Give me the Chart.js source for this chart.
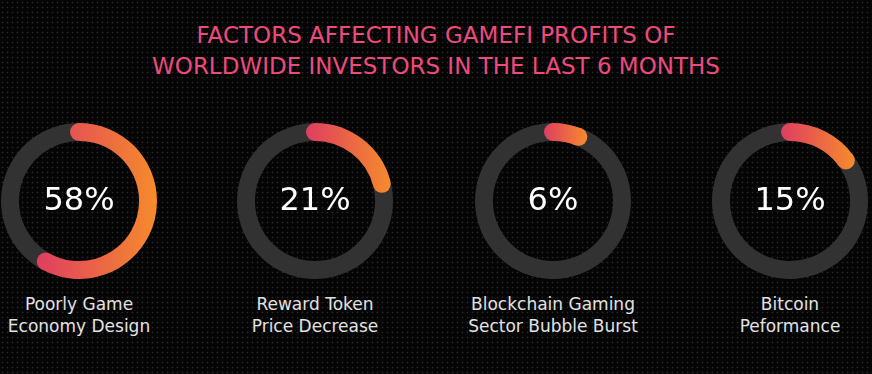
<!DOCTYPE html>
<html>
<head>
<meta charset="utf-8">
<script src="https://cdn.jsdelivr.net/npm/chart.js@4.4.0/dist/chart.umd.min.js"></script>
<style>
  html, body { margin: 0; padding: 0; }
  body {
    width: 872px; height: 374px; overflow: hidden; position: relative;
    background-color: #050505;
    background-image: radial-gradient(circle, #2a2a2a 0.7px, transparent 1.1px);
    background-size: 5px 5px;
    font-family: "DejaVu Sans", sans-serif;
  }
  .title {
    position: absolute; left: 0; top: 20px; width: 872px;
    text-align: center; color: #ee4a7d; font-size: 23px; line-height: 31px;
    text-transform: uppercase;
  }
  .box { position: absolute; top: 123px; width: 156px; height: 156px; }
  .label {
    position: absolute; top: 293px; width: 230px; text-align: center;
    color: #e2e2e2; font-size: 17px; line-height: 22px;
  }
</style>
</head>
<body>
<div class="title">Factors affecting GameFi profits of<br>worldwide investors in the last 6 months</div>
<div id="wrap"></div>
<script>
// data
var categories = [['Poorly Game', 'Economy Design'], ['Reward Token', 'Price Decrease'], ['Blockchain Gaming', 'Sector Bubble Burst'], ['Bitcoin', 'Peformance']];
var shares = [58, 21, 6, 15];
var centers = [79, 315, 553, 790];

var trackColor = '#323232';
var cutout = 77;

function arcGradient(chart, value) {
  var area = chart.chartArea;
  if (!area) return '#e8463f';
  var cx = (area.left + area.right) / 2;
  var r = Math.min(area.right - area.left, area.bottom - area.top) / 2;
  var inner = r * cutout / 100;
  var mid = (r + inner) / 2, cap = (r - inner) / 2;
  var t = value / 100 * Math.PI * 2;
  var minS = t >= 1.5 * Math.PI ? -1 : Math.min(0, Math.sin(t));
  var maxS = t >= 0.5 * Math.PI ? 1 : Math.sin(t);
  var g = chart.ctx.createLinearGradient(cx + mid * minS - cap, 0, cx + mid * maxS + cap, 0);
  g.addColorStop(0, '#de3e60');
  g.addColorStop(1, '#f68b2c');
  return g;
}

// rounded ends for the coloured arc
var roundCaps = {
  id: 'roundCaps',
  afterDatasetsDraw: function (chart) {
    var arc = chart.getDatasetMeta(0).data[0];
    if (!arc) return;
    var p = arc.getProps(['x', 'y', 'startAngle', 'endAngle', 'innerRadius', 'outerRadius'], true);
    var mid = (p.innerRadius + p.outerRadius) / 2;
    var cap = (p.outerRadius - p.innerRadius) / 2;
    var ctx = chart.ctx;
    ctx.save();
    ctx.fillStyle = arc.options.backgroundColor;
    [p.startAngle, p.endAngle].forEach(function (a) {
      ctx.beginPath();
      ctx.arc(p.x + mid * Math.cos(a), p.y + mid * Math.sin(a), cap, 0, Math.PI * 2);
      ctx.fill();
    });
    ctx.restore();
  }
};

// percentage in the middle
var centerText = {
  id: 'centerText',
  afterDraw: function (chart) {
    var arc = chart.getDatasetMeta(0).data[0];
    if (!arc) return;
    var ctx = chart.ctx;
    ctx.save();
    ctx.fillStyle = '#ffffff';
    ctx.font = '32px "DejaVu Sans", sans-serif';
    ctx.textAlign = 'center';
    ctx.textBaseline = 'middle';
    ctx.fillText(chart.data.datasets[0].data[0] + '%', arc.x, arc.y + 1);
    ctx.restore();
  }
};

var wrap = document.getElementById('wrap');
shares.forEach(function (value, i) {
  var box = document.createElement('div');
  box.className = 'box';
  box.style.left = (centers[i] - 78) + 'px';
  var canvas = document.createElement('canvas');
  canvas.width = 156; canvas.height = 156;
  box.appendChild(canvas);
  wrap.appendChild(box);

  var label = document.createElement('div');
  label.className = 'label';
  label.style.left = (centers[i] - 115) + 'px';
  label.innerHTML = categories[i].join('<br>');
  wrap.appendChild(label);

  new Chart(canvas.getContext('2d'), {
    type: 'doughnut',
    data: {
      labels: [categories[i].join(' '), ''],
      datasets: [{
        data: [value, 100 - value],
        backgroundColor: function (c) {
          return c.dataIndex === 0 ? arcGradient(c.chart, value) : trackColor;
        },
        borderWidth: 0
      }]
    },
    options: {
      responsive: false,
      animation: false,
      cutout: cutout + '%',
      layout: { padding: 0 },
      plugins: { legend: { display: false }, tooltip: { enabled: false } }
    },
    plugins: [roundCaps, centerText]
  });
});
</script>
</body>
</html>
